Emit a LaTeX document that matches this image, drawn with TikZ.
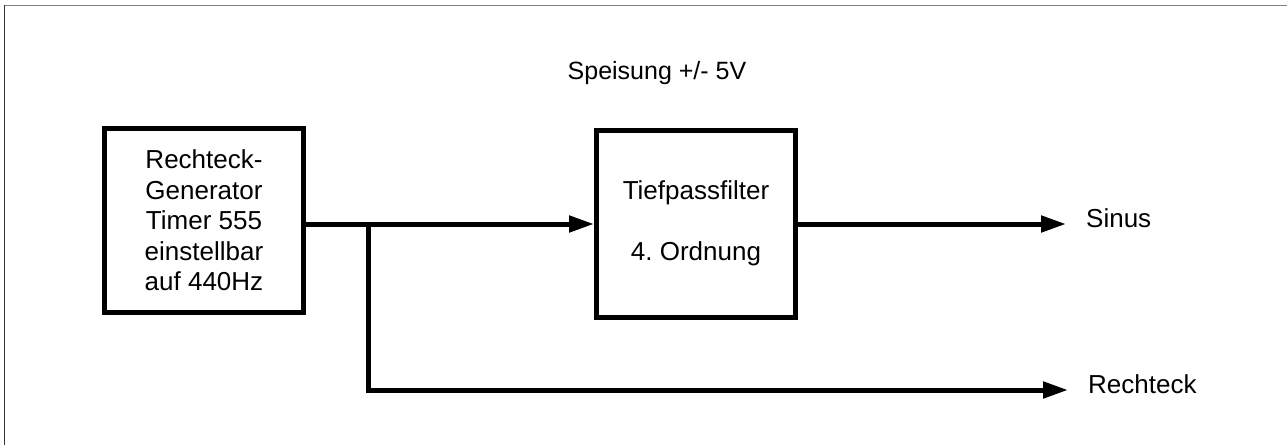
\documentclass[tikz,border=0pt]{standalone}
\usepackage{fontspec}
\setmainfont{Liberation Sans}
\usetikzlibrary{arrows.meta}
\tikzset{block/.style={draw, line width=5pt, minimum width=199pt, align=center, inner sep=0pt},
         sig/.style={line width=5pt, -{Triangle[length=25pt, width=16pt]}},
         lbl/.style={inner sep=0pt}}

\begin{document}
\begin{tikzpicture}[x=1pt, y=-1pt, font=\fontsize{26}{30.5}\selectfont]
    \useasboundingbox (0,0) rectangle (1287,445);
% Frame
    \draw[gray, line width=1.5pt] (4,5.5) -- (1287,5.5);
    \draw[black!80, line width=1.5pt] (4.5,5) -- (4.5,445);
% Supply
    \node[lbl, font=\fontsize{25}{30}\selectfont] (supply) at (657,73) {Speisung +/- 5V};
% Blocks
    \node[block, minimum height=184pt] (gen) at (204,220.5)
        {Rechteck-\\Generator\\Timer 555\\einstellbar\\auf 440Hz};
    \node[block, minimum height=187pt] (filter) at (696,223.5)
        {Tiefpassfilter\\[30.5pt]4.\ Ordnung};
% Outputs
    \coordinate (split) at (368,224);
    \coordinate (sinend) at (1066,224);
    \coordinate (rectend) at (1068,390);
    \node[lbl, anchor=base west] (sinus) at (1086,227) {Sinus};
    \node[lbl, anchor=base west] (rechteck) at (1088,393) {Rechteck};
% Signal paths
    \draw[sig] (gen.east |- split) -- (filter.west |- split);
    \draw[sig] (filter.east |- sinend) -- (sinend);
    \draw[sig] (split) |- (rectend);
\end{tikzpicture}
\end{document}
